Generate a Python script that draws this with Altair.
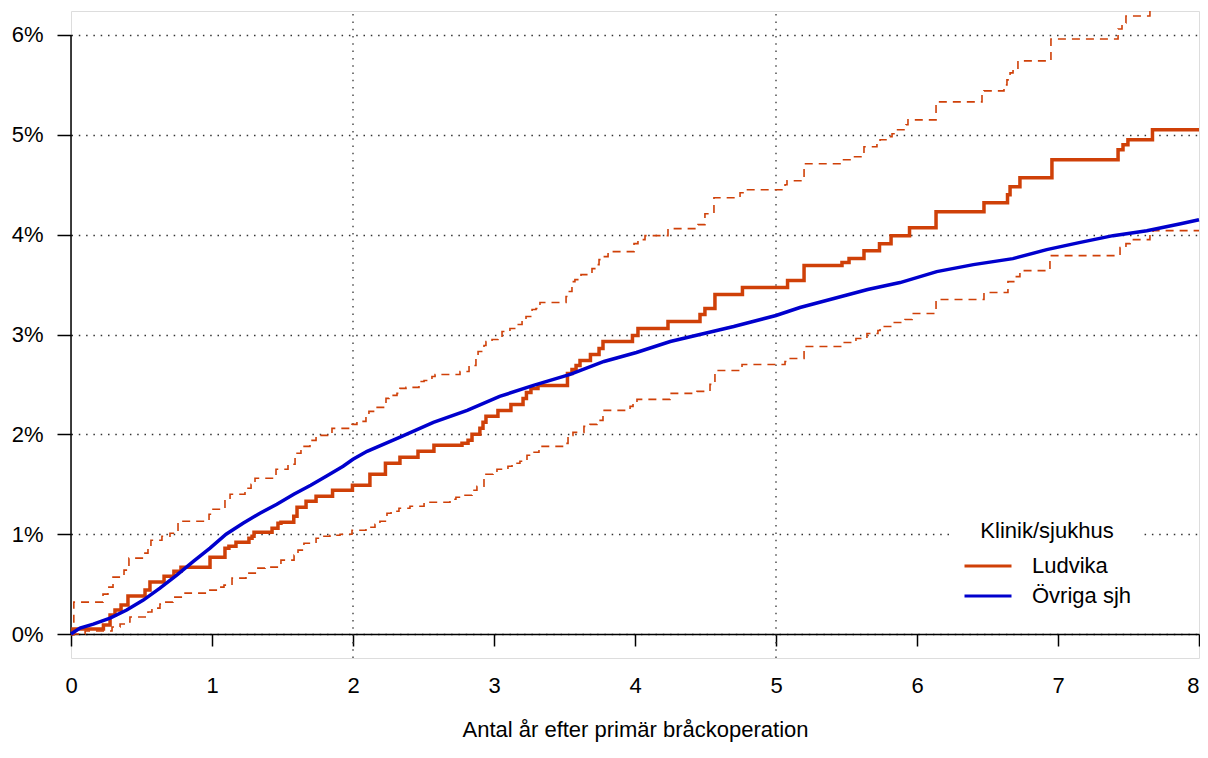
import altair as alt
import pandas as pd

# ---------------- data (years, percent) ----------------
lud_t = [0, 0.014, 0.23, 0.277, 0.312, 0.355, 0.404, 0.525, 0.56, 0.66,
         0.73, 0.78, 0.986, 1.092, 1.12, 1.17, 1.262, 1.284, 1.298, 1.426,
         1.468, 1.489, 1.58, 1.603, 1.667, 1.738, 1.855, 1.996, 2.12, 2.23,
         2.333, 2.461, 2.574, 2.773, 2.816, 2.844, 2.9, 2.922, 2.943, 3.028,
         3.12, 3.206, 3.23, 3.262, 3.312, 3.521, 3.553, 3.582, 3.61, 3.684,
         3.745, 3.773, 3.982, 4.021, 4.234, 4.461, 4.496, 4.567, 4.762, 5.082,
         5.199, 5.468, 5.518, 5.624, 5.734, 5.816, 5.947, 6.135, 6.475, 6.642,
         6.66, 6.73, 6.957, 7.426, 7.461, 7.496, 7.67, 8.0]
lud_p = [0, 0.05, 0.09, 0.19, 0.24, 0.29, 0.38, 0.44, 0.52, 0.58,
         0.63, 0.67, 0.77, 0.86, 0.88, 0.92, 0.96, 0.98, 1.02, 1.06,
         1.11, 1.12, 1.18, 1.27, 1.33, 1.38, 1.44, 1.49, 1.60, 1.71,
         1.77, 1.83, 1.89, 1.91, 1.94, 2.00, 2.06, 2.12, 2.18, 2.24,
         2.30, 2.36, 2.42, 2.46, 2.49, 2.61, 2.65, 2.69, 2.74, 2.80,
         2.86, 2.93, 2.99, 3.06, 3.13, 3.20, 3.26, 3.40, 3.47, 3.54,
         3.69, 3.72, 3.76, 3.84, 3.91, 3.99, 4.07, 4.23, 4.32, 4.40,
         4.48, 4.57, 4.75, 4.85, 4.90, 4.95, 5.05, 5.05]

ov_t = [0, 0.064, 0.158, 0.277, 0.395, 0.513, 0.631, 0.75, 0.87, 0.986,
        1.1, 1.22, 1.34, 1.46, 1.58, 1.70, 1.81, 1.93, 2.0, 2.1,
        2.33, 2.57, 2.81, 3.04, 3.28, 3.54, 3.78, 4.01, 4.25, 4.46,
        4.70, 5.0, 5.17, 5.41, 5.65, 5.88, 6.14, 6.40, 6.68, 6.92,
        7.15, 7.39, 7.63, 7.87, 8.0]
ov_p = [0, 0.06, 0.10, 0.16, 0.24, 0.34, 0.46, 0.59, 0.73, 0.86,
        1.00, 1.11, 1.21, 1.30, 1.40, 1.49, 1.58, 1.68, 1.75, 1.83,
        1.97, 2.12, 2.24, 2.38, 2.49, 2.60, 2.73, 2.82, 2.93, 3.00,
        3.08, 3.19, 3.27, 3.36, 3.45, 3.52, 3.63, 3.70, 3.76, 3.85,
        3.92, 3.99, 4.04, 4.11, 4.15]

up_t = [0, 0.02, 0.227, 0.262, 0.298, 0.376, 0.411, 0.518, 0.546, 0.567,
        0.645, 0.702, 0.759, 0.979, 1.0, 1.092, 1.128, 1.234, 1.277, 1.305,
        1.454, 1.539, 1.589, 1.631, 1.695, 1.738, 1.851, 1.993, 2.028, 2.092,
        2.113, 2.156, 2.234, 2.255, 2.312, 2.333, 2.376, 2.468, 2.504, 2.56,
        2.582, 2.759, 2.823, 2.872, 2.887, 2.929, 2.943, 2.986, 3.028, 3.057,
        3.113, 3.163, 3.199, 3.227, 3.27, 3.298, 3.326, 3.511, 3.525, 3.553,
        3.574, 3.617, 3.695, 3.723, 3.745, 3.766, 3.809, 3.993, 4.021, 4.071,
        4.234, 4.447, 4.496, 4.56, 4.745, 4.766, 5.064, 5.078, 5.199, 5.454,
        5.525, 5.61, 5.624, 5.716, 5.738, 5.787, 5.823, 5.851, 5.922, 5.936,
        6.135, 6.461, 6.475, 6.617, 6.638, 6.66, 6.681, 6.716, 6.95, 7.426,
        7.454, 7.482, 7.652, 8.0]
up_p = [0, 0.32, 0.40, 0.47, 0.57, 0.64, 0.76, 0.81, 0.86, 0.94,
        0.98, 1.01, 1.13, 1.20, 1.25, 1.35, 1.40, 1.46, 1.50, 1.56,
        1.65, 1.70, 1.81, 1.88, 1.94, 1.99, 2.06, 2.10, 2.13, 2.19,
        2.23, 2.27, 2.36, 2.39, 2.41, 2.46, 2.47, 2.53, 2.54, 2.58,
        2.60, 2.63, 2.69, 2.78, 2.83, 2.89, 2.93, 2.95, 2.96, 3.03,
        3.06, 3.10, 3.15, 3.18, 3.25, 3.26, 3.32, 3.38, 3.43, 3.53,
        3.55, 3.60, 3.66, 3.70, 3.75, 3.78, 3.83, 3.91, 3.95, 3.99,
        4.06, 4.10, 4.21, 4.37, 4.42, 4.45, 4.50, 4.54, 4.71, 4.75,
        4.78, 4.80, 4.88, 4.92, 4.95, 4.98, 5.01, 5.05, 5.10, 5.15,
        5.33, 5.40, 5.44, 5.50, 5.55, 5.62, 5.64, 5.74, 5.96, 6.06,
        6.12, 6.19, 6.40, 6.40]

lo_t = [0, 0.1, 0.291, 0.348, 0.397, 0.418, 0.546, 0.574, 0.631, 0.667,
        0.723, 0.809, 0.979, 1.043, 1.085, 1.142, 1.241, 1.319, 1.376, 1.489,
        1.582, 1.61, 1.652, 1.738, 1.766, 1.837, 1.908, 1.993, 2.092, 2.156,
        2.191, 2.241, 2.27, 2.326, 2.404, 2.504, 2.688, 2.73, 2.787, 2.844,
        2.879, 2.929, 2.943, 2.993, 3.021, 3.099, 3.128, 3.184, 3.234, 3.262,
        3.319, 3.511, 3.525, 3.56, 3.638, 3.681, 3.73, 3.773, 3.965, 3.986,
        4.014, 4.248, 4.44, 4.532, 4.567, 4.759, 5.064, 5.078, 5.199, 5.468,
        5.567, 5.645, 5.723, 5.738, 5.83, 5.915, 5.965, 6.135, 6.475, 6.645,
        6.695, 6.73, 6.943, 7.44, 7.482, 7.511, 7.652, 7.674, 8.0]
lo_p = [0, 0.03, 0.07, 0.10, 0.12, 0.17, 0.22, 0.26, 0.30, 0.32,
        0.37, 0.41, 0.44, 0.47, 0.49, 0.56, 0.61, 0.66, 0.67, 0.74,
        0.79, 0.84, 0.91, 0.96, 0.98, 0.99, 1.00, 1.04, 1.07, 1.10,
        1.13, 1.21, 1.23, 1.26, 1.28, 1.32, 1.35, 1.37, 1.39, 1.44,
        1.48, 1.58, 1.60, 1.62, 1.65, 1.68, 1.71, 1.73, 1.79, 1.82,
        1.88, 1.91, 1.99, 2.02, 2.08, 2.10, 2.14, 2.24, 2.28, 2.31,
        2.35, 2.41, 2.43, 2.50, 2.64, 2.70, 2.73, 2.76, 2.88, 2.92,
        2.96, 3.01, 3.04, 3.08, 3.12, 3.15, 3.21, 3.35, 3.42, 3.53,
        3.58, 3.64, 3.79, 3.87, 3.91, 3.95, 4.00, 4.04, 4.04]

groups = ["Ludvika", "Övriga sjh"]
x_ticks = [0, 1, 2, 3, 4, 5, 6, 7, 8]
y_ticks = [0, 0.01, 0.02, 0.03, 0.04, 0.05, 0.06]
vgrid_at = [2, 5]

RED = "#CF4008"
BLUE = "#0000CD"
FONT = "Liberation Sans"
FS = 22

# ---------------- frames ----------------
lud = pd.DataFrame({"t": lud_t, "p": [v / 100 for v in lud_p], "grp": groups[0]})
ov = pd.DataFrame({"t": ov_t, "p": [v / 100 for v in ov_p], "grp": groups[1]})
ci = pd.concat([
    pd.DataFrame({"t": up_t, "p": [v / 100 for v in up_p], "band": "upper"}),
    pd.DataFrame({"t": lo_t, "p": [v / 100 for v in lo_p], "band": "lower"}),
])
vgrid = pd.DataFrame({"t": vgrid_at, "p": [-0.0024] * len(vgrid_at), "p2": [0.0624] * len(vgrid_at)})
yline = pd.DataFrame({"t": [0], "p": [0.0], "p2": [0.06]})

xscale = alt.Scale(domain=[0, 8], nice=False, zero=False)
yscale = alt.Scale(domain=[-0.0024, 0.0624], nice=False, zero=False)

xaxis = alt.Axis(values=x_ticks, format="d", title="Antal år efter primär bråckoperation",
                 grid=False, offset=-24, tickSize=12, tickWidth=1.5, tickColor="black",
                 domainWidth=1.5, domainColor="black", labelFontSize=FS, labelColor="black",
                 labelPadding=29, labelFlush=False,
                 labelAlign={"expr": "datum.value == 8 ? 'right' : 'center'"},
                 titleFontSize=FS, titleFontWeight="normal",
                 titleColor="black", titlePadding=23, labelFont=FONT, titleFont=FONT)
yaxis = alt.Axis(values=y_ticks, format=".0%", title=None, domain=False, grid=True,
                 gridDash=[1.5, 5.8], gridColor="#333333", gridWidth=1.3,
                 tickSize=14, tickWidth=1.5, tickColor="black", labelFontSize=FS,
                 labelColor="black", labelPadding=14, labelFont=FONT)

X = alt.X("t:Q", scale=xscale, axis=xaxis)
Y = alt.Y("p:Q", scale=yscale, axis=yaxis)

legend = alt.Legend(title="Klinik/sjukhus", orient="none", legendX=882, legendY=500,
                    fillColor="white", padding=10, titleFontSize=FS, labelFontSize=FS,
                    titleFontWeight="normal", titleFont=FONT, labelFont=FONT,
                    titleColor="black", labelColor="black", symbolType="stroke",
                    symbolSize=2209, symbolStrokeWidth=3, labelOffset=19, rowPadding=0,
                    clipHeight=30, titlePadding=8, titleAnchor="middle")
color = alt.Color("grp:N", scale=alt.Scale(domain=groups, range=[RED, BLUE]), legend=legend)

vg = alt.Chart(vgrid).mark_rule(color="#333333", strokeDash=[1.5, 5.8], strokeWidth=1.3).encode(
    x=X, y=Y, y2="p2:Q")
yl = alt.Chart(yline).mark_rule(color="black", strokeWidth=1.5).encode(x=X, y=Y, y2="p2:Q")

ci_layer = alt.Chart(ci).mark_line(interpolate="step-after", strokeWidth=1.6,
                                   strokeDash=[8, 6], color=RED, clip=True).encode(
    x=X, y=Y, detail="band:N")
lud_layer = alt.Chart(lud).mark_line(interpolate="step-after", strokeWidth=3.5).encode(
    x=X, y=Y, color=color)
ov_layer = alt.Chart(ov).mark_line(strokeWidth=3.5).encode(x=X, y=Y, color=color)

chart = alt.layer(vg, yl, ci_layer, lud_layer, ov_layer).properties(
    width=1128, height=647,
    autosize=alt.AutoSizeParams(type="none"),
    padding={"left": 63, "top": 3, "right": 1, "bottom": 84},
).configure_view(strokeWidth=0).configure(font=FONT)

chart.save("out.html", embed_options={"renderer": "svg", "actions": False})
